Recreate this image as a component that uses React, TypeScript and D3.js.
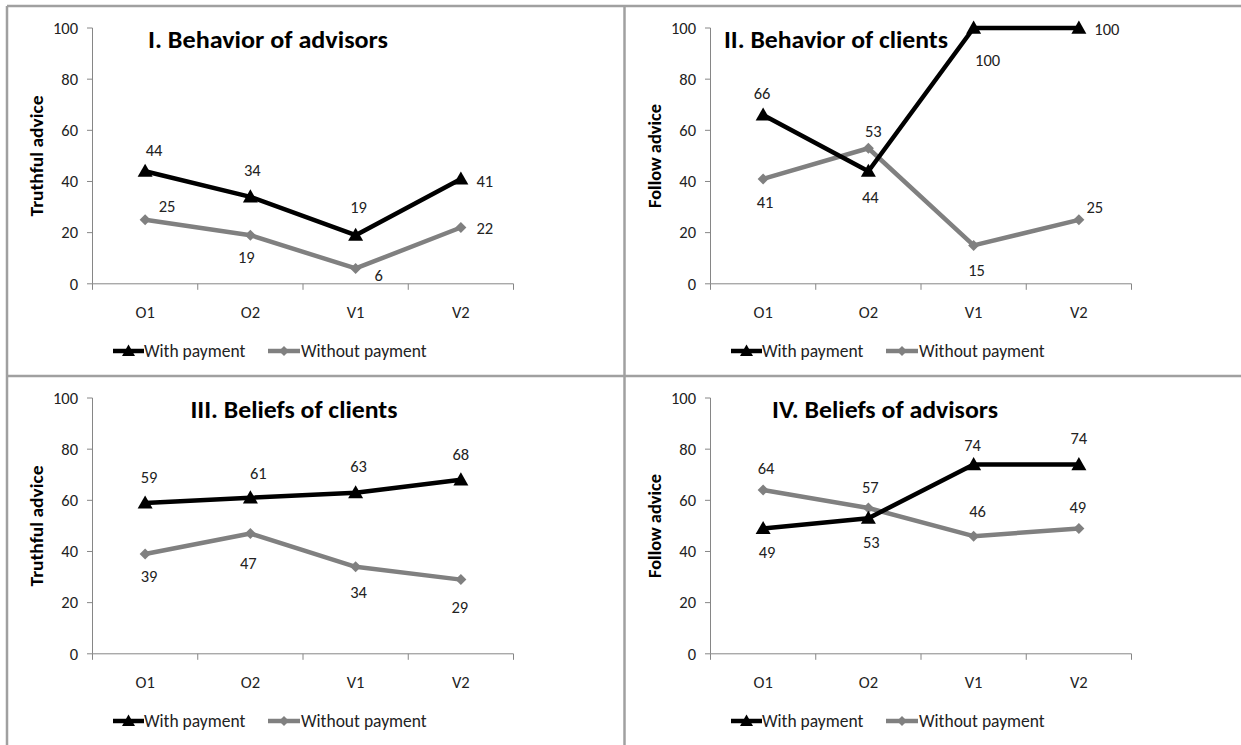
import React from "react";
import * as d3 from "d3";

const categories = ["O1", "O2", "V1", "V2"];
const yTicks = [0, 20, 40, 60, 80, 100];
const seriesNames = ["With payment", "Without payment"];

const titles = [
  "I. Behavior of advisors",
  "II. Behavior of clients",
  "III. Beliefs of clients",
  "IV. Beliefs of advisors",
];
const yTitles = ["Truthful advice", "Follow advice", "Truthful advice", "Follow advice"];

const p1With = [44, 34, 19, 41];
const p1Without = [25, 19, 6, 22];
const p2With = [66, 44, 100, 100];
const p2Without = [41, 53, 15, 25];
const p3With = [59, 61, 63, 68];
const p3Without = [39, 47, 34, 29];
const p4With = [49, 53, 74, 74];
const p4Without = [64, 57, 46, 49];

const withSeries = [p1With, p2With, p3With, p4With];
const withoutSeries = [p1Without, p2Without, p3Without, p4Without];

// label offsets (layout only) [dx, dy] relative to each point
const withOffsets = [
  [[9, -21], [2, -27], [3, -28], [24, 2]],
  [[-1, -22], [2, 26], [14, 32], [28, 1]],
  [[4, -26], [8, -25], [3, -26], [0, -26]],
  [[4, 24], [3, 24], [-1, -19], [0, -26]],
];
const withoutOffsets = [
  [[22, -14], [-4, 22], [23, 7], [24, 1]],
  [[2, 23], [5, -17], [3, 25], [16, -13]],
  [[4, 22], [-2, 30], [3, 25], [-1, 28]],
  [[3, -22], [2, -21], [4, -25], [-1, -21]],
];

const panelOrigins = [
  [0, 0],
  [618, 0],
  [0, 370],
  [618, 370],
];
const titleCenters = [268, 218, 294, 267];
const titleWidths = [240, 224, 207, 226];
const yTitleWidths = [121, 104, 121, 104];

const FONT = "Carlito, Calibri, Lato, sans-serif";
const BLACK = "#000000";
const GRAY = "#808080";
const AXIS = "#868686";
const NUM = 16.5;
const LEG = 17.5;

function trianglePath(x: number, y: number, s = 7) {
  return `M${x},${y - s} L${x + s},${y + s * 0.75} L${x - s},${y + s * 0.75} Z`;
}
function diamondPath(x: number, y: number, s = 5.5) {
  return `M${x},${y - s} L${x + s},${y} L${x},${y + s} L${x - s},${y} Z`;
}

function Panel({ idx }: { idx: number }) {
  const [ox, oy] = panelOrigins[idx];
  const x = d3.scaleBand<string>().domain(categories).range([92.5, 513.5]);
  const y = d3.scaleLinear().domain([0, 100]).range([283.8, 28]);
  const cx = (c: string) => (x(c) as number) + x.bandwidth() / 2;
  const line = d3
    .line<number>()
    .x((_, i) => cx(categories[i]))
    .y((d) => y(d));
  const w = withSeries[idx];
  const wo = withoutSeries[idx];
  const bounds = [...categories.map((c) => x(c) as number), 513.5];
  return (
    <g transform={`translate(${ox},${oy})`} fontFamily={FONT}>
      {/* axes */}
      <line x1={92.5} x2={92.5} y1={y(100)} y2={y(0)} stroke={AXIS} strokeWidth={1} />
      {yTicks.map((t) => (
        <g key={t}>
          <line x1={87} x2={92.5} y1={y(t)} y2={y(t)} stroke={AXIS} strokeWidth={1} />
          <text x={78} y={y(t)} dy="0.35em" textAnchor="end" fontSize={NUM} fill="#222">
            {t}
          </text>
        </g>
      ))}
      <line x1={92.5} x2={513.5} y1={y(0)} y2={y(0)} stroke={AXIS} strokeWidth={1} />
      {bounds.map((b, i) => (
        <line key={i} x1={b} x2={b} y1={y(0)} y2={y(0) + 6} stroke={AXIS} strokeWidth={1} />
      ))}
      {categories.map((c) => (
        <text key={c} x={cx(c)} y={312} dy="0.35em" textAnchor="middle" fontSize={NUM} fill="#222">
          {c}
        </text>
      ))}
      <text
        transform={`translate(37,156) rotate(-90)`}
        x={-yTitleWidths[idx] / 2}
        dy="0.35em"
        fontSize={18}
        fontWeight="bold"
        fill="#000"
        textLength={yTitleWidths[idx]}
        lengthAdjust="spacingAndGlyphs"
      >
        {yTitles[idx]}
      </text>
      {/* title */}
      <text
        x={titleCenters[idx] - titleWidths[idx] / 2}
        y={48}
        fontSize={24}
        fontWeight="bold"
        fill="#000"
        textLength={titleWidths[idx]}
        lengthAdjust="spacingAndGlyphs"
      >
        {titles[idx]}
      </text>
      {/* lines */}
      <path d={line(wo) || ""} fill="none" stroke={GRAY} strokeWidth={4.5} strokeLinejoin="round" />
      {wo.map((v, i) => (
        <path key={i} d={diamondPath(cx(categories[i]), y(v))} fill={GRAY} />
      ))}
      <path d={line(w) || ""} fill="none" stroke={BLACK} strokeWidth={4.5} strokeLinejoin="round" />
      {w.map((v, i) => (
        <path key={i} d={trianglePath(cx(categories[i]), y(v), 7.5)} fill={BLACK} />
      ))}
      {/* data labels */}
      {w.map((v, i) => (
        <text
          key={"lw" + i}
          x={cx(categories[i]) + withOffsets[idx][i][0]}
          y={y(v) + withOffsets[idx][i][1]}
          dy="0.35em"
          textAnchor="middle"
          fontSize={NUM}
          fill="#222"
        >
          {v}
        </text>
      ))}
      {wo.map((v, i) => (
        <text
          key={"lwo" + i}
          x={cx(categories[i]) + withoutOffsets[idx][i][0]}
          y={y(v) + withoutOffsets[idx][i][1]}
          dy="0.35em"
          textAnchor="middle"
          fontSize={NUM}
          fill="#222"
        >
          {v}
        </text>
      ))}
      {/* legend */}
      <g>
        <line x1={113} x2={144} y1={351} y2={351} stroke={BLACK} strokeWidth={4.5} />
        <path d={trianglePath(128.5, 351, 6.5)} fill={BLACK} />
        <text x={144} y={351} dy="0.35em" fontSize={LEG} fill="#222">
          {seriesNames[0]}
        </text>
        <line x1={268} x2={300} y1={351} y2={351} stroke={GRAY} strokeWidth={4.5} />
        <path d={diamondPath(284, 351, 5)} fill={GRAY} />
        <text x={301} y={351} dy="0.35em" fontSize={LEG} fill="#222">
          {seriesNames[1]}
        </text>
      </g>
    </g>
  );
}

export default function App() {
  return (
    <svg
      width={1241}
      height={745}
      style={{ position: "absolute", left: 0, top: 0, background: "#fff" }}
    >
      <rect x={0} y={0} width={1241} height={745} fill="#fff" />
      {[0, 1, 2, 3].map((i) => (
        <Panel key={i} idx={i} />
      ))}
      {/* panel borders */}
      <g stroke="#a0a0a0" strokeWidth={2.5}>
        <line x1={7} x2={1241} y1={6} y2={6} />
        <line x1={7} x2={7} y1={6} y2={745} />
        <line x1={624.5} x2={624.5} y1={6} y2={745} />
        <line x1={7} x2={1241} y1={376} y2={376} />
      </g>
    </svg>
  );
}
